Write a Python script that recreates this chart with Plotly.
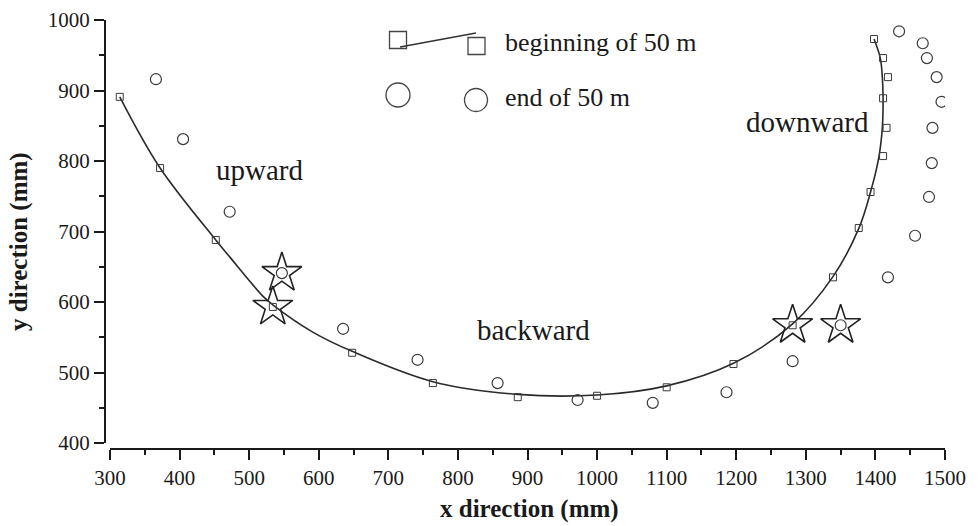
import plotly.graph_objects as go

# Fitted trajectory of the starting points
fit_x = [314, 372, 452, 472, 520, 534, 592, 648, 764, 886, 1000, 1100, 1196, 1281, 1339, 1376, 1393, 1405, 1410, 1411, 1410, 1407, 1398]
fit_y = [891, 790, 688, 664, 608, 596, 557, 530, 487, 469, 468, 481, 513, 569, 636, 704, 756, 806, 848, 889, 918, 946, 973]

# Beginning of 50 m
begin_x = [314, 372, 452, 534, 648, 764, 886, 1000, 1100, 1196, 1281, 1339, 1376, 1393, 1411, 1416, 1411, 1418, 1411, 1398]
begin_y = [891, 790, 688, 593, 528, 485, 465, 467, 479, 512, 567, 635, 705, 756, 807, 847, 889, 919, 946, 973]

# End of 50 m
end_x = [366, 405, 472, 547, 635, 742, 857, 972, 1080, 1186, 1281, 1350, 1418, 1457, 1477, 1481, 1482, 1495, 1488, 1474, 1468, 1434]
end_y = [916, 831, 728, 641, 562, 518, 485, 461, 457, 472, 516, 567, 635, 694, 749, 797, 847, 884, 919, 946, 967, 984]

# Highlighted turning points
star_x = [534, 547, 1281, 1350]
star_y = [593, 641, 567, 567]

x_ticks = [300, 400, 500, 600, 700, 800, 900, 1000, 1100, 1200, 1300, 1400, 1500]
y_ticks = [400, 500, 600, 700, 800, 900, 1000]

W, H = 978, 526
ML, MR, MT, MB = 100, 28, 15, 71
PW, PH = W - ML - MR, H - MT - MB

def px(xp):
    return (xp - ML) / PW

def py(yp):
    return (H - MB - yp) / PH

SERIF = "Liberation Serif"
INK = "#1a1a1a"
MARK = "#3a3a3a"

fig = go.Figure()
fig.add_trace(go.Scatter(x=fit_x, y=fit_y, mode="lines",
                         line=dict(color="#2a2a2a", width=1.6, shape="spline", smoothing=1.0),
                         hoverinfo="skip"))
fig.add_trace(go.Scatter(x=begin_x, y=begin_y, mode="markers",
                         marker=dict(symbol="square-open", size=7, color=MARK, line=dict(width=1))))
fig.add_trace(go.Scatter(x=end_x, y=end_y, mode="markers",
                         marker=dict(symbol="circle-open", size=11, color=MARK, line=dict(width=1.2))))
fig.add_trace(go.Scatter(x=star_x, y=star_y, mode="markers",
                         marker=dict(symbol="star-open", size=30, color="#222", line=dict(width=1.6))))

axis_common = dict(showline=True, linewidth=2, linecolor=INK, ticks="outside", ticklen=10,
                   tickwidth=2, tickcolor=INK, showgrid=False, zeroline=False, automargin=False,
                   tickfont=dict(family=SERIF, size=21, color=INK),
                   minor=dict(ticks="outside", ticklen=5, tickwidth=2, tickcolor=INK, dtick=50))

fig.update_layout(
    width=W, height=H,
    margin=dict(l=ML, r=MR, t=MT, b=MB, autoexpand=False),
    paper_bgcolor="white", plot_bgcolor="white",
    showlegend=False,
    xaxis=dict(domain=[px(110), px(945)], range=[300, 1500], anchor="free", position=py(449),
               tickmode="array", tickvals=x_ticks, ticktext=[str(v) for v in x_ticks], **axis_common),
    yaxis=dict(domain=[py(443), py(20)], range=[400, 1000], anchor="free", position=px(105),
               tickmode="array", tickvals=y_ticks, ticktext=[str(v) for v in y_ticks], **axis_common),
)

def label(text, cx, cy, size, xanchor="center", angle=0):
    fig.add_annotation(text=text, xref="paper", yref="paper", x=px(cx), y=py(cy),
                       xanchor=xanchor, yanchor="middle", showarrow=False, textangle=angle,
                       font=dict(family=SERIF, size=size, color=INK))

# Axis titles
label("<b>x direction (mm)</b>", 529, 509, 25)
label("<b>y direction (mm)</b>", 19, 242, 25, angle=-90)

# Phase labels
label("upward", 259, 170, 29)
label("backward", 533, 330, 29)
label("downward", 807, 122, 29)

# Legend glyphs
def sq(cx, cy, s):
    return dict(type="rect", xref="paper", yref="paper", xsizemode="pixel", ysizemode="pixel",
                xanchor=px(cx), yanchor=py(cy), x0=-s / 2, x1=s / 2, y0=-s / 2, y1=s / 2,
                line=dict(color="#444", width=1.3))

def circ(cx, cy, d):
    return dict(type="circle", xref="paper", yref="paper", xsizemode="pixel", ysizemode="pixel",
                xanchor=px(cx), yanchor=py(cy), x0=-d / 2, x1=d / 2, y0=-d / 2, y1=d / 2,
                line=dict(color="#444", width=1.3))

fig.add_shape(sq(398, 40, 17))
fig.add_shape(sq(476.5, 46, 17))
fig.add_shape(type="line", xref="paper", yref="paper", x0=px(400), y0=py(47), x1=px(476), y1=py(33),
              line=dict(color="#333", width=1.6))
fig.add_shape(circ(398, 95, 24))
fig.add_shape(circ(476, 100, 23))

label("beginning of 50 m", 503, 43, 26, xanchor="left")
label("end of 50 m", 503, 98, 26, xanchor="left")

fig.write_html("out.html")
